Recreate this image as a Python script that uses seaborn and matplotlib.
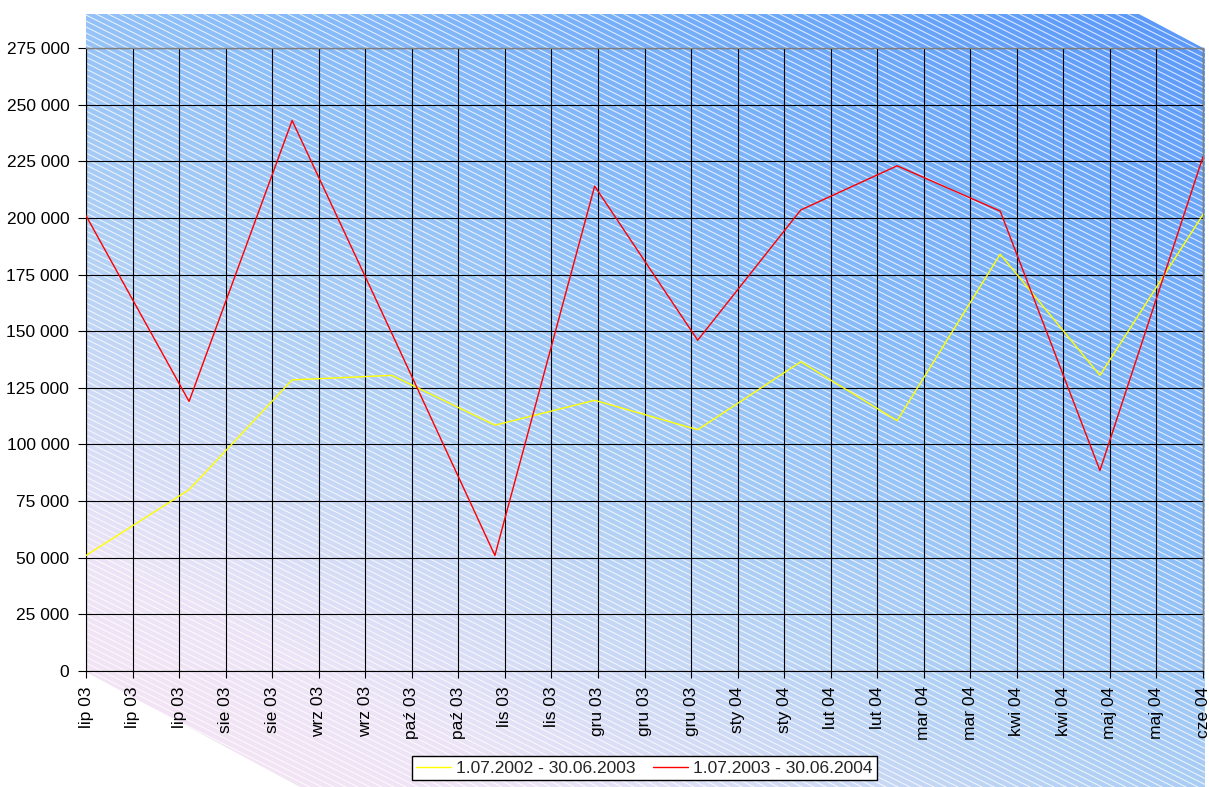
import numpy as np
import pandas as pd
import matplotlib
matplotlib.use("Agg")
from matplotlib import pyplot as plt
from matplotlib.collections import LineCollection
from matplotlib.colors import LinearSegmentedColormap
from matplotlib.patches import Polygon
from matplotlib.ticker import FuncFormatter
from matplotlib import dates as mdates
import seaborn as sns


# monthly values, plotted on the first day of each month
months = pd.date_range("2003-07-01", "2004-06-01", freq="MS")
prev_year = [51000, 80000, 128500, 130500, 108500, 119500, 106500, 136500, 110500, 184000, 130500, 201500]
this_year = [201000, 119000, 243000, 149000, 51000, 214000, 146000, 203500, 223000, 203000, 88500, 227000]
series_names = ["1.07.2002 - 30.06.2003", "1.07.2003 - 30.06.2004"]
series_colors = ["#ffff00", "#ff0000"]

tick_dates = pd.date_range("2003-07-01", "2004-06-01", freq="14D")
pl_months = ["sty", "lut", "mar", "kwi", "maj", "cze", "lip", "sie", "wrz", "paź", "lis", "gru"]
y_ticks = np.arange(0, 275001, 25000)

sns.set_style("ticks")
plt.rcParams["font.family"] = ["Liberation Sans", "DejaVu Sans"]
plt.rcParams["font.size"] = 12.5

W, H = 1209, 787
fig = plt.figure(figsize=(W / 100, H / 100), dpi=100)

#Background: gradient fill with white diagonal stripes
bg = fig.add_axes([0, 0, 1, 1], zorder=0)
bg.set_xlim(0, W)
bg.set_ylim(H, 0)
bg.axis("off")
yy, xx = np.mgrid[0:H, 0:W]
t = 0.45 * xx / W + 0.55 * (1 - yy / H)
cmap = LinearSegmentedColormap.from_list("bg", [(0, "#fbe4f3"), (0.2, "#ece4f7"), (0.42, "#b0d0f4"),
                                                (0.6, "#8ebff8"), (0.8, "#72acf8"), (1.0, "#5896f8")])
im = bg.imshow(t, cmap=cmap, extent=(0, W, H, 0), vmin=0, vmax=1, aspect="auto", interpolation="bilinear")
shape = Polygon([(86, 14), (1139, 14), (1205, 49), (1205, H), (300, H), (86, 672)],
                closed=True, facecolor="none", edgecolor="none", transform=bg.transData)
bg.add_patch(shape)
im.set_clip_path(shape)
offsets = np.arange(-700, H + 10, 6)
stripes = LineCollection([[(0, c), (W, c + 0.5 * W)] for c in offsets], colors="white", linewidths=0.8, alpha=0.75)
bg.add_collection(stripes)
stripes.set_clip_path(shape)

#Main chart
ax = fig.add_axes([86 / W, 1 - 671 / H, (1203 - 86) / W, (671 - 48) / H], zorder=1)
ax.patch.set_alpha(0)

df = pd.DataFrame({"date": list(months) * 2,
                   "value": prev_year + this_year,
                   "series": [series_names[0]] * len(months) + [series_names[1]] * len(months)})
sns.lineplot(data=df, x="date", y="value", hue="series", palette=series_colors, linewidth=1.0, ax=ax, zorder=3)

ax.set_xlim(tick_dates[0], tick_dates[-1])
ax.set_ylim(0, 275000)
ax.set_xticks(tick_dates)
ax.set_yticks(y_ticks)
ax.xaxis.set_major_formatter(FuncFormatter(
    lambda v, pos: pl_months[mdates.num2date(v).month - 1] + mdates.num2date(v).strftime(" %y")))
ax.yaxis.set_major_formatter(FuncFormatter(lambda v, pos: f"{int(v):,}".replace(",", " ")))
ax.tick_params(axis="x", rotation=90, length=5, width=0.8, pad=6, labelsize=12.5, colors="black")
ax.tick_params(axis="y", length=6, width=0.8, pad=6, labelsize=12.5, colors="black")
for lab in ax.get_xticklabels():
    lab.set_va("top")
    lab.set_ha("center")

ax.set_axisbelow(True)
ax.grid(True, color="black", linewidth=0.8)
ax.set_xlabel("")
ax.set_ylabel("")
for side in ["left", "bottom"]:
    ax.spines[side].set_color("black")
    ax.spines[side].set_linewidth(0.8)
for side in ["top", "right"]:
    ax.spines[side].set_visible(True)
    ax.spines[side].set_color("#808080")
    ax.spines[side].set_linewidth(1.0)

handles, labels = ax.get_legend_handles_labels()
leg = ax.legend(handles, labels, loc="center", bbox_to_anchor=(0.5, -0.1557), ncol=2,
                frameon=True, fancybox=False, framealpha=1, edgecolor="black",
                handlelength=2.0, handletextpad=0.3, columnspacing=1.0, borderpad=0.25,
                borderaxespad=0, fontsize=12.5)
leg.get_frame().set_linewidth(1.0)
for line in leg.get_lines():
    line.set_linewidth(1.0)

plt.savefig("out.png", dpi=100)
